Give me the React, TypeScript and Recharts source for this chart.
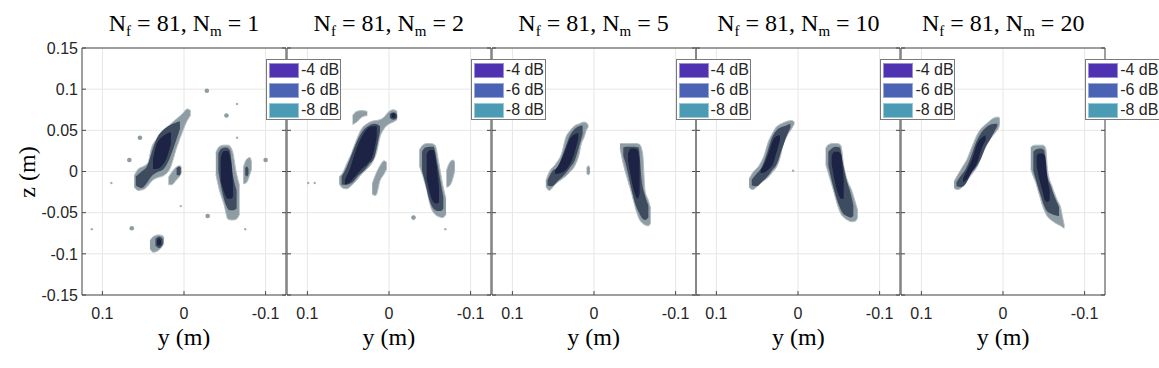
import React from 'react';
import { ComposedChart, Area, Scatter, XAxis, YAxis, CartesianGrid } from 'recharts';

type Row = [number, number, number]; // [y, zLow, zHigh]
type Pt = [number, number]; // [y, z]

const nfValue = 81;
const nmValues = [1, 2, 5, 10, 20];
const yTicks = [0.1, 0, -0.1];
const zTicks = [-0.15, -0.1, -0.05, 0, 0.05, 0.1, 0.15];
const legendLabels = ['-4 dB', '-6 dB', '-8 dB'];
const legendColors = ['#4e32b2', '#4b63b4', '#4b9bb4'];

// ---- N_m = 1 ----
const p1LeftOuter: Row[] = [[0.061, -0.019, -0.005], [0.056, -0.023, 0.003], [0.05, -0.022, 0.006], [0.044, -0.017, 0.011], [0.04, -0.012, 0.028], [0.034, -0.008, 0.039], [0.025, -0.005, 0.049], [0.017, 0.004, 0.057], [0.009, 0.029, 0.064], [0.002, 0.048, 0.07], [-0.004, 0.062, 0.076], [-0.008, 0.068, 0.074]];
const p1LeftMid: Row[] = [[0.059, -0.017, -0.006], [0.052, -0.02, 0.0], [0.045, -0.013, 0.007], [0.04, -0.006, 0.022], [0.033, -0.001, 0.041], [0.025, 0.003, 0.051], [0.018, 0.015, 0.056], [0.011, 0.034, 0.059], [0.005, 0.052, 0.061]];
const p1LeftInner: Row[] = [[0.038, 0.003, 0.015], [0.034, 0.003, 0.032], [0.027, 0.007, 0.042], [0.021, 0.017, 0.046], [0.016, 0.034, 0.048]];
const p1SmallOuter: Row[] = [[0.019, -0.016, -0.007], [0.015, -0.016, -0.001], [0.01, -0.011, 0.005], [0.005, -0.005, 0.007], [0.003, -0.001, 0.005]];
const p1SmallMid: Row[] = [[0.009, -0.004, 0.004], [0.006, -0.005, 0.006], [0.004, -0.002, 0.004]];
const p1RightOuter: Row[] = [[-0.039, -0.003, 0.023], [-0.043, -0.021, 0.03], [-0.049, -0.04, 0.032], [-0.054, -0.058, 0.032], [-0.059, -0.059, 0.026], [-0.064, -0.058, -0.001], [-0.068, -0.052, -0.017]];
const p1RightMid: Row[] = [[-0.042, 0.001, 0.022], [-0.046, -0.021, 0.028], [-0.0515, -0.041, 0.029], [-0.056, -0.047, 0.026], [-0.0605, -0.047, -0.007], [-0.0645, -0.045, -0.023]];
const p1RightInner: Row[] = [[-0.045, -0.011, 0.017], [-0.049, -0.025, 0.025], [-0.0535, -0.033, 0.025], [-0.0575, -0.033, 0.013], [-0.06, -0.031, -0.015]];
const p1SideOuter: Row[] = [[-0.0727, -0.015, 0.005], [-0.0768, -0.013, 0.015], [-0.0809, -0.003, 0.017], [-0.0829, 0.003, 0.011]];
const p1SideMid: Row[] = [[-0.075, -0.004, 0.004], [-0.077, -0.006, 0.006], [-0.079, -0.003, 0.003]];
const p1LowOuter: Row[] = [[0.0417, -0.094, -0.084], [0.0376, -0.098, -0.079], [0.0315, -0.096, -0.077], [0.0262, -0.09, -0.078], [0.0245, -0.087, -0.081]];
const p1LowMid: Row[] = [[0.035, -0.09, -0.082], [0.0305, -0.093, -0.079], [0.026, -0.089, -0.082]];
const p1LowInner: Row[] = [[0.033, -0.089, -0.084], [0.0305, -0.09, -0.081], [0.028, -0.088, -0.084]];
const p1Dots: Pt[] = [[-0.028, 0.098], [-0.052, 0.068], [0.054, 0.041], [0.067, 0.014], [-0.1, 0.014], [-0.029, -0.054], [0.064, -0.069]];
const p1Specks: Pt[] = [[-0.065, 0.082], [-0.065, 0.041], [0.089, -0.014], [-0.075, -0.07], [0.004, -0.042], [0.113, -0.07]];

// ---- N_m = 2 ----
const p2LeftOuter: Row[] = [[0.061, -0.015, -0.006], [0.057, -0.02, -0.002], [0.052, -0.021, 0.009], [0.046, -0.017, 0.022], [0.04, -0.011, 0.038], [0.0335, -0.003, 0.052], [0.027, 0.003, 0.058], [0.021, 0.01, 0.061], [0.015, 0.024, 0.062], [0.011, 0.042, 0.063], [0.006, 0.052, 0.066], [0.001, 0.057, 0.072], [-0.005, 0.06, 0.075], [-0.01, 0.063, 0.073]];
const p2LeftMid: Row[] = [[0.058, -0.016, -0.006], [0.052, -0.016, 0.005], [0.0446, -0.013, 0.024], [0.0376, -0.005, 0.04], [0.0307, 0.001, 0.051], [0.0242, 0.009, 0.056], [0.018, 0.017, 0.058], [0.014, 0.034, 0.057], [0.011, 0.049, 0.055]];
const p2LeftInner: Row[] = [[0.054, -0.016, -0.01], [0.048, -0.013, 0.003], [0.0405, -0.005, 0.026], [0.0335, 0.003, 0.042], [0.0266, 0.009, 0.052], [0.02, 0.019, 0.055], [0.015, 0.042, 0.055]];
const p2KnobMid: Row[] = [[-0.001, 0.065, 0.07], [-0.0058, 0.063, 0.072], [-0.01, 0.065, 0.069]];
const p2KnobInner: Row[] = [[-0.003, 0.066, 0.07], [-0.0058, 0.065, 0.071], [-0.008, 0.066, 0.069]];
const p2Crescent: Row[] = [[0.0446, 0.057, 0.068], [0.0396, 0.06, 0.073], [0.0335, 0.066, 0.074], [0.0266, 0.068, 0.073]];
const p2LowerBlob: Row[] = [[0.0206, -0.028, -0.015], [0.0161, -0.029, -0.003], [0.011, -0.011, 0.007], [0.0061, -0.003, 0.013], [0.0029, 0.003, 0.011]];
const p2RightOuter: Row[] = [[-0.0372, 0.007, 0.026], [-0.0413, -0.005, 0.032], [-0.0462, -0.022, 0.034], [-0.0511, -0.043, 0.034], [-0.0564, -0.052, 0.032], [-0.0613, -0.055, 0.009], [-0.0658, -0.056, -0.016], [-0.0699, -0.052, -0.033]];
const p2RightMid: Row[] = [[-0.0405, 0.001, 0.024], [-0.0446, -0.015, 0.029], [-0.0495, -0.035, 0.03], [-0.0544, -0.045, 0.03], [-0.0593, -0.048, 0.009], [-0.0634, -0.048, -0.014], [-0.0666, -0.045, -0.031]];
const p2RightInner: Row[] = [[-0.0462, -0.009, 0.021], [-0.0503, -0.027, 0.026], [-0.0544, -0.037, 0.026], [-0.0585, -0.039, 0.007], [-0.0613, -0.037, -0.019]];
const p2SideOuter: Row[] = [[-0.0704, -0.019, 0.001], [-0.0745, -0.017, 0.011], [-0.0786, -0.007, 0.014], [-0.0806, 0.001, 0.011]];
const p2Dots: Pt[] = [[-0.03, -0.056]];
const p2Specks: Pt[] = [[0.099, -0.014], [0.091, -0.014], [-0.069, -0.07]];

// ---- N_m = 5 ----
const p3LeftOuter: Row[] = [[0.059, -0.018, -0.011], [0.055, -0.023, -0.001], [0.047, -0.015, 0.009], [0.039, -0.009, 0.024], [0.035, -0.006, 0.04], [0.029, 0.0, 0.05], [0.023, 0.008, 0.056], [0.018, 0.022, 0.058], [0.016, 0.032, 0.059], [0.012, 0.042, 0.06], [0.009, 0.051, 0.059], [0.007, 0.054, 0.056]];
const p3LeftMid: Row[] = [[0.057, -0.017, -0.011], [0.052, -0.018, -0.001], [0.0437, -0.011, 0.007], [0.0355, -0.003, 0.028], [0.0294, 0.005, 0.044], [0.0233, 0.014, 0.052], [0.0184, 0.03, 0.055], [0.0139, 0.046, 0.056]];
const p3LeftInner: Row[] = [[0.0478, -0.003, 0.001], [0.0417, -0.002, 0.011], [0.0355, 0.001, 0.025], [0.0294, 0.009, 0.04], [0.0241, 0.022, 0.045], [0.0192, 0.04, 0.047]];
const p3DotOuter: Row[] = [[0.009, -0.002, 0.004], [0.007, -0.004, 0.007], [0.005, -0.002, 0.004]];
const p3RightOuter: Row[] = [[-0.0319, 0.028, 0.034], [-0.0359, 0.009, 0.034], [-0.0409, -0.009, 0.034], [-0.0462, -0.027, 0.034], [-0.0515, -0.047, 0.034], [-0.0556, -0.058, 0.033], [-0.0596, -0.063, 0.022], [-0.0625, -0.065, -0.023], [-0.0666, -0.066, -0.035], [-0.0694, -0.063, -0.045]];
const p3RightMid: Row[] = [[-0.0359, 0.019, 0.029], [-0.04, 0.005, 0.03], [-0.0449, -0.017, 0.03], [-0.0498, -0.037, 0.03], [-0.0547, -0.049, 0.029], [-0.0584, -0.056, -0.011], [-0.0625, -0.059, -0.029], [-0.0666, -0.056, -0.041]];
const p3RightInner: Row[] = [[-0.0417, 0.013, 0.022], [-0.0453, -0.007, 0.028], [-0.0494, -0.025, 0.028], [-0.0535, -0.033, 0.026], [-0.0559, -0.027, 0.013]];

// ---- N_m = 10 ----
const p4LeftOuter: Row[] = [[0.06, -0.019, -0.009], [0.0559, -0.022, -0.002], [0.0478, -0.016, 0.007], [0.0417, -0.011, 0.019], [0.0364, -0.007, 0.036], [0.0315, -0.001, 0.046], [0.0266, 0.005, 0.054], [0.0225, 0.015, 0.057], [0.0184, 0.032, 0.059], [0.0131, 0.044, 0.061], [0.0078, 0.052, 0.062], [0.0045, 0.058, 0.06]];
const p4LeftMid: Row[] = [[0.0567, -0.017, -0.01], [0.0511, -0.018, -0.003], [0.0446, -0.013, 0.005], [0.0384, -0.007, 0.021], [0.0323, 0.001, 0.04], [0.0261, 0.009, 0.05], [0.02, 0.026, 0.054], [0.0143, 0.042, 0.056], [0.0094, 0.053, 0.058]];
const p4LeftInner: Row[] = [[0.0458, -0.002, 0.002], [0.0405, -0.001, 0.011], [0.0356, 0.003, 0.024], [0.0307, 0.009, 0.038], [0.0261, 0.024, 0.043], [0.0221, 0.038, 0.044]];
const p4RightOuter: Row[] = [[-0.0339, 0.009, 0.028], [-0.038, -0.005, 0.033], [-0.0429, -0.021, 0.034], [-0.0482, -0.04, 0.034], [-0.0523, -0.051, 0.032], [-0.0564, -0.056, 0.005], [-0.0605, -0.059, -0.011], [-0.0658, -0.061, -0.023], [-0.0707, -0.06, -0.039], [-0.0731, -0.056, -0.047]];
const p4RightMid: Row[] = [[-0.0372, 0.007, 0.024], [-0.0413, -0.011, 0.028], [-0.0462, -0.029, 0.03], [-0.0511, -0.043, 0.029], [-0.0552, -0.051, 0.009], [-0.0597, -0.054, -0.011], [-0.0646, -0.056, -0.027], [-0.0678, -0.054, -0.041]];
const p4RightInner: Row[] = [[-0.0413, 0.009, 0.019], [-0.0445, -0.009, 0.024], [-0.0486, -0.025, 0.024], [-0.0527, -0.033, 0.021], [-0.056, -0.033, -0.011]];
const p4Specks: Pt[] = [[0.006, 0.001]];

// ---- N_m = 20 ----
const p5LeftOuter: Row[] = [[0.06, -0.02, -0.012], [0.056, -0.022, -0.005], [0.05, -0.019, 0.005], [0.044, -0.011, 0.015], [0.038, -0.003, 0.03], [0.031, 0.007, 0.046], [0.025, 0.022, 0.054], [0.019, 0.034, 0.059], [0.013, 0.043, 0.064], [0.008, 0.049, 0.066], [0.005, 0.054, 0.066], [0.004, 0.058, 0.064]];
const p5LeftMid: Row[] = [[0.057, -0.018, -0.013], [0.0515, -0.019, -0.005], [0.0457, -0.015, 0.003], [0.0396, -0.003, 0.017], [0.0335, 0.005, 0.034], [0.0274, 0.015, 0.046], [0.0212, 0.03, 0.053], [0.0151, 0.04, 0.057], [0.0098, 0.05, 0.058], [0.007, 0.055, 0.058]];
const p5LeftInner: Row[] = [[0.0489, -0.013, -0.008], [0.0438, -0.009, 0.002], [0.0376, 0.001, 0.016], [0.0315, 0.011, 0.034], [0.0262, 0.028, 0.041], [0.0213, 0.038, 0.044]];
const p5RightOuter: Row[] = [[-0.034, 0.003, 0.029], [-0.036, -0.003, 0.031], [-0.04, -0.013, 0.032], [-0.0441, -0.027, 0.032], [-0.049, -0.043, 0.032], [-0.0523, -0.051, 0.028], [-0.0547, -0.055, 0.001], [-0.0605, -0.06, -0.019], [-0.0666, -0.064, -0.035], [-0.0707, -0.066, -0.044], [-0.0735, -0.068, -0.058], [-0.0752, -0.069, -0.066]];
const p5RightMid: Row[] = [[-0.0372, 0.001, 0.024], [-0.0409, -0.012, 0.027], [-0.0462, -0.029, 0.028], [-0.0503, -0.041, 0.026], [-0.0531, -0.047, -0.001], [-0.0584, -0.051, -0.017], [-0.0637, -0.053, -0.032], [-0.0686, -0.054, -0.043]];
const p5RightInner: Row[] = [[-0.0413, 0.007, 0.019], [-0.0441, -0.008, 0.022], [-0.0482, -0.023, 0.022], [-0.0515, -0.035, 0.019], [-0.0544, -0.037, -0.007], [-0.0572, -0.035, -0.023]];

const panels = [
  { outer: [p1LeftOuter, p1RightOuter, p1SmallOuter, p1SideOuter, p1LowOuter], mid: [p1LeftMid, p1RightMid, p1SmallMid, p1SideMid, p1LowMid], inner: [p1LeftInner, p1RightInner, p1LowInner], dots: p1Dots, specks: p1Specks },
  { outer: [p2LeftOuter, p2RightOuter, p2Crescent, p2LowerBlob, p2SideOuter], mid: [p2LeftMid, p2RightMid, p2KnobMid], inner: [p2LeftInner, p2RightInner, p2KnobInner], dots: p2Dots, specks: p2Specks },
  { outer: [p3LeftOuter, p3RightOuter, p3DotOuter], mid: [p3LeftMid, p3RightMid], inner: [p3LeftInner, p3RightInner], dots: [], specks: [] },
  { outer: [p4LeftOuter, p4RightOuter], mid: [p4LeftMid, p4RightMid], inner: [p4LeftInner, p4RightInner], dots: [], specks: p4Specks },
  { outer: [p5LeftOuter, p5RightOuter], mid: [p5LeftMid, p5RightMid], inner: [p5LeftInner, p5RightInner], dots: [], specks: [] },
];

const OUTER = '#8e9ca3';
const HALO = '#b3bfc3';
const MID = '#3f4c5f';
const INNER = '#1c2345';
const AXIS = '#4a4a4a';

const PLOT_LEFT = 82;
const PLOT_TOP = 48;
const PLOT_W = 204;
const PLOT_H = 247;
const STEP = 204.8;
// each axis takes 1px, so margins are 1px smaller than the wanted gap
const M = { top: 9, right: 19, bottom: 39, left: 59 };

const toArea = (rows: Row[]) => rows.map(([y, lo, hi]) => ({ y, z: [lo, hi] }));
const toDots = (pts: Pt[]) => pts.map(([y, z]) => ({ y, z }));
const blank = () => '';

const tickStyle = { fill: '#262626', fontSize: 16, fontFamily: '"Liberation Sans", Arial, sans-serif' };
const serif = '"Liberation Serif", "Times New Roman", serif';

function Panel({ index }: { index: number }) {
  const p = panels[index];
  const area = (rows: Row[], key: string, fill: string, stroke: string) => (
    <Area key={key} data={toArea(rows)} dataKey="z" type="monotone" fill={fill} fillOpacity={1}
      stroke={stroke} strokeWidth={1} dot={false} activeDot={false} isAnimationActive={false} />
  );
  return (
    <div style={{ position: 'absolute', left: PLOT_LEFT + index * STEP - M.left - 1, top: PLOT_TOP - M.top - 1 }}>
      <ComposedChart width={M.left + PLOT_W + M.right + 2} height={M.top + PLOT_H + M.bottom + 2} margin={M}>
        <CartesianGrid stroke="#e6e6e6" />
        <XAxis type="number" dataKey="y" domain={[-0.125, 0.125]} reversed allowDataOverflow ticks={yTicks}
          height={1} tickSize={-4} tickMargin={17} tick={tickStyle} stroke={AXIS} />
        <XAxis xAxisId="top" orientation="top" type="number" domain={[-0.125, 0.125]} reversed allowDataOverflow
          ticks={yTicks} height={1} tickSize={-4} tickFormatter={blank} stroke={AXIS} />
        <YAxis type="number" dataKey="z" domain={[-0.15, 0.15]} allowDataOverflow ticks={zTicks} width={1}
          tickSize={-4} tickMargin={8} tick={tickStyle} tickFormatter={index === 0 ? undefined : blank} stroke={AXIS} />
        <YAxis yAxisId="right" orientation="right" type="number" domain={[-0.15, 0.15]} allowDataOverflow
          ticks={zTicks} width={1} tickSize={-4} tickFormatter={blank} stroke={AXIS} />
        {p.outer.map((r, k) => area(r, 'o' + k, OUTER, HALO))}
        {p.mid.map((r, k) => area(r, 'm' + k, MID, 'none'))}
        {p.inner.map((r, k) => area(r, 'i' + k, INNER, 'none'))}
        <Scatter data={toDots(p.dots)} isAnimationActive={false}
          shape={(s: any) => <circle cx={s.cx} cy={s.cy} r={2.3} fill={OUTER} />} />
        <Scatter data={toDots(p.specks)} isAnimationActive={false}
          shape={(s: any) => <circle cx={s.cx} cy={s.cy} r={1.2} fill="#a3b0b5" />} />
      </ComposedChart>
    </div>
  );
}

function LegendBox({ index }: { index: number }) {
  return (
    <div style={{ position: 'absolute', left: PLOT_LEFT + index * STEP + 184, top: 59, width: 75, height: 61,
      border: '1px solid #7a7a7a', background: '#fff', boxSizing: 'border-box' }}>
      {legendLabels.map((lab, k) => (
        <div key={lab} style={{ position: 'absolute', left: 2, top: 2 + k * 20, height: 16, display: 'flex', alignItems: 'center' }}>
          <div style={{ width: 30, height: 15, background: legendColors[k], border: '1px solid rgba(255,255,255,0.45)', boxSizing: 'border-box' }} />
          <span style={{ marginLeft: 2, fontSize: 16, fontFamily: tickStyle.fontFamily, color: '#262626', lineHeight: '16px', whiteSpace: 'nowrap' }}>{lab}</span>
        </div>
      ))}
    </div>
  );
}

export default function App() {
  return (
    <div style={{ position: 'absolute', left: 0, top: 0, width: 1159, height: 368, background: '#fff', overflow: 'hidden' }}>
      {nmValues.map((_, i) => <Panel key={i} index={i} />)}
      {nmValues.map((nm, i) => {
        const cx = PLOT_LEFT + i * STEP + PLOT_W / 2;
        return (
          <React.Fragment key={'t' + i}>
            <div style={{ position: 'absolute', left: cx - 100, width: 200, top: 9, textAlign: 'center', fontFamily: serif,
              fontSize: 24, lineHeight: '28px', color: '#000', whiteSpace: 'nowrap' }}>
              N<sub style={{ fontSize: 15, lineHeight: 0, verticalAlign: '-5px' }}>f</sub> = {nfValue}, N
              <sub style={{ fontSize: 15, lineHeight: 0, verticalAlign: '-5px' }}>m</sub> = {nm}
            </div>
            <div style={{ position: 'absolute', left: cx - 60, width: 120, top: 323, textAlign: 'center', fontFamily: serif,
              fontSize: 24, lineHeight: '28px', color: '#000' }}>y (m)</div>
          </React.Fragment>
        );
      })}
      <div style={{ position: 'absolute', left: -13, top: 158, width: 80, height: 28, lineHeight: '28px', textAlign: 'center',
        fontFamily: serif, fontSize: 24, color: '#000', transform: 'rotate(-90deg)' }}>z (m)</div>
      {nmValues.map((_, i) => <LegendBox key={'l' + i} index={i} />)}
    </div>
  );
}
